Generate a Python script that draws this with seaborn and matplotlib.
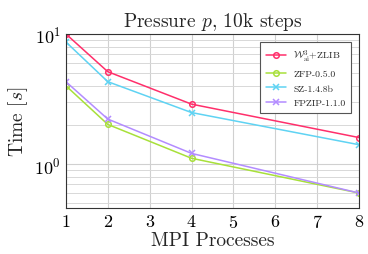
import matplotlib
matplotlib.use('Agg')
import matplotlib.pyplot as plt
import seaborn as sns
import pandas as pd
from matplotlib.ticker import LogLocator, NullFormatter

procs = [1, 2, 4, 8]
t_wai = [10.0, 5.13, 2.89, 1.60]
t_zfp = [4.0, 2.02, 1.11, 0.60]
t_sz = [8.68, 4.30, 2.49, 1.41]
t_fpzip = [4.30, 2.22, 1.21, 0.60]

labels = [r'$\mathcal{W}^3_{\mathrm{ai}}$+ZLIB', 'ZFP-0.5.0', 'SZ-1.4.8b', 'FPZIP-1.1.0']
colors = ['#ff2f6b', '#a8e03a', '#5fd3f3', '#b38cff']
markers = ['o', 'o', 'x', 'x']

sns.set_style('whitegrid')
plt.rcParams['font.family'] = ['cmr10', 'DejaVu Serif']
plt.rcParams['mathtext.fontset'] = 'cm'
plt.rcParams['axes.formatter.use_mathtext'] = True

fig = plt.figure(figsize=(3.68, 2.55), dpi=100)
ax = fig.add_axes([0.179, 0.180, 0.797, 0.683])

for vals, lab, c, m in zip([t_wai, t_zfp, t_sz, t_fpzip], labels, colors, markers):
    df = pd.DataFrame({'procs': procs, 'time': vals})
    sns.lineplot(data=df, x='procs', y='time', ax=ax, color=c, label=lab,
                 marker=m, markersize=4, markerfacecolor='none',
                 markeredgecolor=c, markeredgewidth=1.1, linewidth=1.1)

ax.set_yscale('log')
ax.set_xlim(1, 8)
ax.set_ylim(0.46, 10)
ax.set_xticks(range(1, 9))
ax.yaxis.set_major_locator(LogLocator(base=10))
ax.yaxis.set_minor_locator(LogLocator(base=10, subs=range(2, 10)))
ax.yaxis.set_minor_formatter(NullFormatter())

ax.grid(True, which='major', color='#d0d0d0', linewidth=0.8)
ax.grid(True, which='minor', axis='y', color='#d8d8d8', linewidth=0.7)
for s in ax.spines.values():
    s.set_color('#333333')
    s.set_linewidth(0.8)
ax.tick_params(axis='both', which='both', direction='in', labelsize=13,
               colors='#333333', labelcolor='black')
ax.tick_params(which='major', length=3)
ax.tick_params(which='minor', length=2)

ax.set_title(r'Pressure $p$, 10k steps', fontsize=14, pad=6)
ax.set_xlabel('MPI Processes', fontsize=14, labelpad=1)
ax.set_ylabel(r'Time [$s$]', fontsize=14, labelpad=3)

leg = ax.legend(loc='upper right', fontsize=7, frameon=True, fancybox=False,
                edgecolor='#555555', framealpha=1, handlelength=2.0,
                borderpad=0.6, labelspacing=0.6, borderaxespad=0.8)
leg.get_frame().set_linewidth(0.8)

fig.savefig('out.png', dpi=100)
